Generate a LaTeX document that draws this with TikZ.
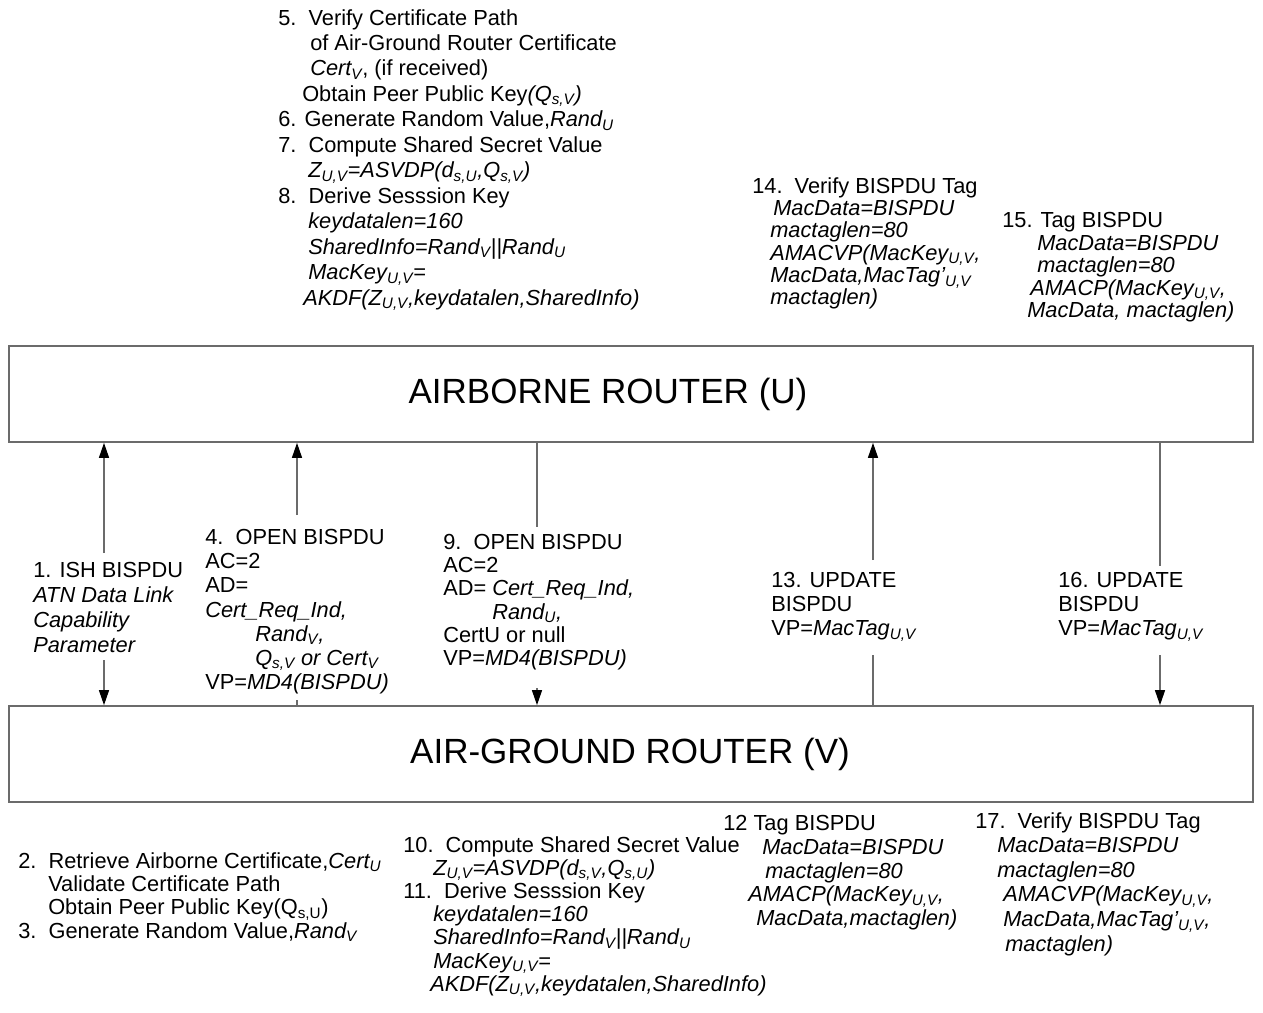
\documentclass[tikz,border=0pt]{standalone}
\usepackage{fontspec}
\setmainfont{Liberation Sans}
\usepackage{xcolor}
\usetikzlibrary{arrows.meta}

\definecolor{linegray}{gray}{0.42}
\newlength{\pxu}\setlength{\pxu}{0.025cm}
\newcommand{\sbs}[1]{\textsubscript{#1}}

\begin{document}
\begin{tikzpicture}[x=0.025cm, y=-0.025cm,
    >={Triangle[length=0.375cm, width=0.25cm, color=black]},
    lead/.style={font=\fontsize{15.5pt}{#1}\selectfont},
    msg/.style={anchor=north west, inner sep=0pt, align=left, lead=17.1pt},
    router/.style={draw=linegray, line width=1.2pt, minimum width=31.1cm,
        minimum height=2.4cm, inner sep=0pt},
    routerlbl/.style={font=\fontsize{24.9pt}{30pt}\selectfont, inner sep=0pt},
    link/.style={draw=linegray, line width=0.9pt}]
    \useasboundingbox (0,0) rectangle (1263,1013);

    % Routers
    \node[router] (U) at (631,394) {};
    \node[routerlbl] (Ulbl) at (608,394) {AIRBORNE ROUTER (U)};
    \node[router] (V) at (631,754) {};
    \node[routerlbl] (Vlbl) at (630,754) {AIR-GROUND ROUTER (V)};

    % Airborne router steps
    \node[msg, lead=18.1pt] (s5) at (278,9) {5.\ \ Verify Certificate Path\\
        \hspace*{32\pxu}of Air-Ground Router Certificate\\
        \hspace*{32\pxu}\textit{Cert\sbs{V}}, (if received)\\
        \hspace*{24\pxu}Obtain Peer Public Key\textit{(Q\sbs{s,V})}\\
        6. Generate Random Value,\textit{Rand\sbs{U}}\\
        7.\ \ Compute Shared Secret Value\\
        \hspace*{30\pxu}\textit{Z\sbs{U,V}=ASVDP(d\sbs{s,U},Q\sbs{s,V})}\\
        8.\ \ Derive Sesssion Key\\
        \hspace*{30\pxu}\textit{keydatalen=160}\\
        \hspace*{30\pxu}\textit{SharedInfo=Rand\sbs{V}||Rand\sbs{U}}\\
        \hspace*{30\pxu}\textit{MacKey\sbs{U,V}=}\\
        \hspace*{25\pxu}\textit{AKDF(Z\sbs{U,V},keydatalen,SharedInfo)}};
    \node[msg, lead=15.9pt] (s14) at (752,177) {14.\ \ Verify BISPDU Tag\\
        \hspace*{21\pxu}\textit{MacData=BISPDU}\\
        \hspace*{18\pxu}\textit{mactaglen=80}\\
        \hspace*{18\pxu}\textit{AMACVP(MacKey\sbs{U,V},}\\
        \hspace*{18\pxu}\textit{MacData,MacTag'\sbs{U,V}}\\
        \hspace*{18\pxu}\textit{mactaglen)}};
    \node[msg, lead=16pt] (s15) at (1002,212) {15. Tag BISPDU\\
        \hspace*{35\pxu}\textit{MacData=BISPDU}\\
        \hspace*{35\pxu}\textit{mactaglen=80}\\
        \hspace*{28\pxu}\textit{AMACP(MacKey\sbs{U,V},}\\
        \hspace*{25\pxu}\textit{MacData, mactaglen)}};

    % Messages
    \node[msg, lead=17.8pt] (m1) at (33,562) {1. ISH BISPDU\\
        \textit{ATN Data Link}\\ \textit{Capability}\\ \textit{Parameter}};
    \node[msg, lead=17.2pt] (m4) at (205,529) {4.\ \ OPEN BISPDU\\
        AC=2\\ AD=\\ \textit{Cert\_Req\_Ind,}\\
        \hspace*{50\pxu}\textit{Rand\sbs{V},}\\
        \hspace*{50\pxu}\textit{Q\sbs{s,V} or Cert\sbs{V}}\\
        VP=\textit{MD4(BISPDU)}};
    \node[msg, lead=16.5pt] (m9) at (443,534) {9.\ \ OPEN BISPDU\\
        AC=2\\ AD= \textit{Cert\_Req\_Ind,}\\
        \hspace*{49\pxu}\textit{Rand\sbs{U},}\\
        CertU or null\\
        VP=\textit{MD4(BISPDU)}};
    \node[msg] (m13) at (771,572) {13. UPDATE\\ BISPDU\\ VP=\textit{MacTag\sbs{U,V}}};
    \node[msg] (m16) at (1058,572) {16. UPDATE\\ BISPDU\\ VP=\textit{MacTag\sbs{U,V}}};

    % Air-ground router steps
    \node[msg, lead=16.6pt] (s2) at (18,852) {2.\ \ Retrieve Airborne Certificate,\textit{Cert\sbs{U}}\\
        \hspace*{30\pxu}Validate Certificate Path\\
        \hspace*{30\pxu}Obtain Peer Public Key(Q\sbs{s,U})\\
        3.\ \ Generate Random Value,\textit{Rand\sbs{V}}};
    \node[msg, lead=16.5pt] (s10) at (403,836) {10.\ \ Compute Shared Secret Value\\
        \hspace*{30\pxu}\textit{Z\sbs{U,V}=ASVDP(d\sbs{s,V},Q\sbs{s,U})}\\
        11.\ \ Derive Sesssion Key\\
        \hspace*{30\pxu}\textit{keydatalen=160}\\
        \hspace*{30\pxu}\textit{SharedInfo=Rand\sbs{V}||Rand\sbs{U}}\\
        \hspace*{30\pxu}\textit{MacKey\sbs{U,V}=}\\
        \hspace*{27\pxu}\textit{AKDF(Z\sbs{U,V},keydatalen,SharedInfo)}};
    \node[msg, lead=16.9pt] (s12) at (723,815) {12 Tag BISPDU\\
        \hspace*{39\pxu}\textit{MacData=BISPDU}\\
        \hspace*{42\pxu}\textit{mactaglen=80}\\
        \hspace*{25\pxu}\textit{AMACP(MacKey\sbs{U,V},}\\
        \hspace*{33\pxu}\textit{MacData,mactaglen)}};
    \node[msg, lead=17.5pt] (s17) at (975,812) {17.\ \ Verify BISPDU Tag\\
        \hspace*{22\pxu}\textit{MacData=BISPDU}\\
        \hspace*{22\pxu}\textit{mactaglen=80}\\
        \hspace*{28\pxu}\textit{AMACVP(MacKey\sbs{U,V},}\\
        \hspace*{28\pxu}\textit{MacData,MacTag'\sbs{U,V},}\\
        \hspace*{30\pxu}\textit{mactaglen)}};

    % Connector ends
    \coordinate (e1a) at (104,553);  \coordinate (e1b) at (104,660);
    \coordinate (e4a) at (297,515);  \coordinate (e4b) at (297,700);
    \coordinate (e9a) at (537,527);  \coordinate (e9b) at (537,688);
    \coordinate (e13a) at (873,560); \coordinate (e13b) at (873,655);
    \coordinate (e16a) at (1160,566); \coordinate (e16b) at (1160,655);

    \draw[link, ->] (e1a) -- (e1a |- U.south);
    \draw[link, ->] (e1b) -- (e1b |- V.north);
    \draw[link, ->] (e4a) -- (e4a |- U.south);
    \draw[link] (e4b) -- (e4b |- V.north);
    \draw[link] (e9a |- U.south) -- (e9a);
    \draw[link, ->] (e9b) -- (e9b |- V.north);
    \draw[link, ->] (e13a) -- (e13a |- U.south);
    \draw[link] (e13b) -- (e13b |- V.north);
    \draw[link] (e16a |- U.south) -- (e16a);
    \draw[link, ->] (e16b) -- (e16b |- V.north);
\end{tikzpicture}
\end{document}
